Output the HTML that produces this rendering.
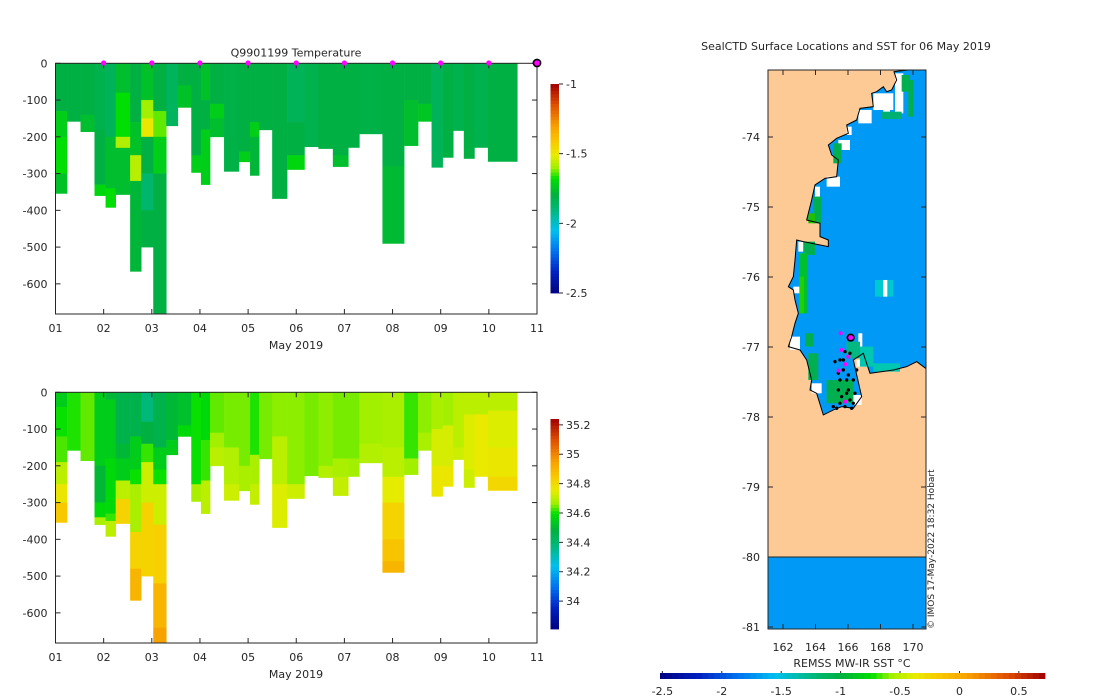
<!DOCTYPE html>
<html><head><meta charset="utf-8"><style>
body{margin:0;background:#fff;width:1100px;height:700px;overflow:hidden}
svg{display:block;font-family:"DejaVu Sans","Liberation Sans",sans-serif}
text{fill:#262626;font-size:11px}
</style></head><body>
<svg id="fig" width="1100" height="700"></svg>
<script>
// ---------- DATA ----------
const colStart=[0,0.24,0.52,0.81,1.04,1.25,1.55,1.78,2.03,2.30,2.54,2.82,3.02,3.21,3.50,3.81,4.04,4.23,4.50,4.81,5.17,5.46,5.76,6.08,6.31,6.79,7.24,7.53,7.81,8.04,8.26,8.48,8.70,8.98];
const colEnd=[0.24,0.52,0.81,1.04,1.25,1.55,1.78,2.03,2.30,2.54,2.82,3.02,3.21,3.50,3.81,4.04,4.23,4.50,4.81,5.17,5.46,5.76,6.08,6.31,6.79,7.24,7.53,7.81,8.04,8.26,8.48,8.70,8.98,9.59];
const colDepth=[354,158,186,360,392,357,566,500,682,170,120,297,330,200,294,268,305,181,368,289,227,232,281,229,192,490,224,158,283,256,183,259,229,267];
const tempLayers=[
[[0,-1.8],[130,-1.72],[200,-1.68],[300,-1.75]],[[0,-1.8]],[[0,-1.8],[140,-1.76]],
[[0,-1.82],[180,-1.8],[330,-1.7]],[[0,-1.84],[200,-1.76],[340,-1.68]],
[[0,-1.76],[80,-1.68],[200,-1.58],[230,-1.76]],[[0,-1.8],[160,-1.75],[250,-1.57],[320,-1.78]],
[[0,-1.75],[100,-1.6],[150,-1.5],[200,-1.8],[300,-1.88],[400,-1.8]],[[0,-1.8],[130,-1.63],[200,-1.72],[300,-1.8]],
[[0,-1.85]],[[0,-1.8],[60,-1.75]],[[0,-1.8],[250,-1.72]],[[0,-1.75],[100,-1.8],[180,-1.72]],
[[0,-1.8],[110,-1.72],[150,-1.76]],[[0,-1.81]],[[0,-1.8],[240,-1.72]],[[0,-1.8],[160,-1.72],[200,-1.78]],
[[0,-1.8]],[[0,-1.8]],[[0,-1.84],[160,-1.8],[250,-1.7]],[[0,-1.82]],[[0,-1.8]],[[0,-1.8],[250,-1.76]],
[[0,-1.8]],[[0,-1.81]],[[0,-1.8],[280,-1.77]],[[0,-1.8],[100,-1.76]],[[0,-1.8],[110,-1.74]],
[[0,-1.84]],[[0,-1.8]],[[0,-1.82]],[[0,-1.8]],[[0,-1.82]],[[0,-1.8]]];
const salLayers=[
[[0,34.55],[40,34.6],[120,34.63],[190,34.7],[250,34.77],[300,34.85]],[[0,34.61]],[[0,34.64]],
[[0,34.55],[200,34.5],[300,34.58],[340,34.68]],[[0,34.5],[20,34.55],[180,34.58],[330,34.62],[350,34.7]],
[[0,34.46],[140,34.5],[180,34.55],[240,34.7],[290,34.82]],
[[0,34.46],[120,34.55],[210,34.6],[250,34.68],[380,34.82],[480,34.9]],
[[0,34.38],[80,34.48],[140,34.62],[190,34.72],[300,34.82]],
[[0,34.46],[150,34.55],[210,34.6],[250,34.72],[360,34.83],[520,34.9],[640,34.95]],
[[0,34.5],[130,34.55]],[[0,34.52],[90,34.58]],[[0,34.6],[250,34.68]],[[0,34.58],[130,34.62],[240,34.7]],
[[0,34.64],[110,34.67],[150,34.7]],[[0,34.65],[150,34.69],[250,34.72]],[[0,34.65],[200,34.68]],
[[0,34.61],[170,34.68],[250,34.71]],[[0,34.65]],[[0,34.66],[120,34.7],[250,34.74]],[[0,34.66],[250,34.72]],
[[0,34.65]],[[0,34.66],[200,34.69]],[[0,34.65],[180,34.68],[230,34.71]],[[0,34.65],[180,34.67]],
[[0,34.67],[140,34.69]],[[0,34.68],[150,34.7],[230,34.75],[300,34.82],[400,34.86],[460,34.9]],
[[0,34.62],[180,34.67]],[[0,34.66],[110,34.68]],[[0,34.68],[100,34.73],[200,34.77]],
[[0,34.67],[90,34.73],[200,34.77]],[[0,34.7],[150,34.72]],[[0,34.7],[60,34.74],[210,34.72]],
[[0,34.7],[60,34.76]],[[0,34.7],[50,34.74],[150,34.77],[230,34.81]]];
const surfaceDays=[1,2,3,4,5,6,7,8,9];
const currentDay=[10];
const depthTicks=[0,-100,-200,-300,-400,-500,-600];
const dayLabels=["01","02","03","04","05","06","07","08","09","10","11"];
const tempTicks=[-1,-1.5,-2,-2.5];
const salTicks=[35.2,35,34.8,34.6,34.4,34.2,34];
const lonTicks=[162,164,166,168,170];
const latTicks=[-74,-75,-76,-77,-78,-79,-80,-81];
const sstTicks=[-2.5,-2,-1.5,-1,-0.5,0,0.5];

// ---------- helpers ----------
const NS="http://www.w3.org/2000/svg";
const fig=document.getElementById('fig');
function mk(tag,attrs,parent){const e=document.createElementNS(NS,tag);for(const k in attrs)e.setAttribute(k,attrs[k]);(parent||fig).appendChild(e);return e;}
const stops=[[0,[0,0,127]],[0.1,[0,32,192]],[0.2,[0,112,240]],[0.3,[0,192,240]],[0.4,[0,184,120]],[0.47,[0,176,64]],[0.55,[0,224,0]],[0.6,[160,240,0]],[0.66,[232,236,0]],[0.72,[248,204,0]],[0.8,[248,160,0]],[0.9,[224,80,0]],[1,[160,0,0]]];
function cmap(p){p=Math.max(0,Math.min(1,p));for(let i=1;i<stops.length;i++){if(p<=stops[i][0]){const a=stops[i-1],b=stops[i],t=(p-a[0])/(b[0]-a[0]);const c=a[1].map((v,j)=>Math.round(v+(b[1][j]-v)*t));return `rgb(${c})`;}}return 'rgb(160,0,0)';}

function section(name,top,bot,layers,vmin,vmax,cbTop,cbBot,cbTicks,title){
  const L=55.5,R=537,D1=682;
  const xs=d=>L+(R-L)*d/10, ys=m=>top+(bot-top)*m/D1;
  const g=mk('g',{});
  
  
  colStart.forEach((s,i)=>{
    const ls=layers[i];
    ls.forEach((l,j)=>{
      const d0=l[0], d1=j+1<ls.length?ls[j+1][0]:colDepth[i];
      const r=mk('rect',{x:xs(s),y:ys(d0),width:xs(colEnd[i])-xs(s)+0.3,height:ys(d1)-ys(d0)+0.3,fill:cmap((l[1]-vmin)/(vmax-vmin))},g);
      
      
    });
  });
  const ax=mk('rect',{x:L,y:top,width:R-L,height:bot-top,fill:'none',stroke:'#262626','stroke-width':1},g);
  
  
  depthTicks.forEach(t=>{const y=ys(-t);
    mk('line',{x1:L,x2:L+5,y1:y,y2:y,stroke:'#262626'},g);mk('line',{x1:R,x2:R-5,y1:y,y2:y,stroke:'#262626'},g);
    const tx=mk('text',{x:L-8,y:y+4,'text-anchor':'end'},g);tx.textContent=t;
    
    });
  dayLabels.forEach((lab,i)=>{const x=xs(i);
    mk('line',{x1:x,x2:x,y1:bot,y2:bot-5,stroke:'#262626'},g);mk('line',{x1:x,x2:x,y1:top,y2:top+5,stroke:'#262626'},g);
    const tx=mk('text',{x:x,y:bot+18,'text-anchor':'middle'},g);tx.textContent=lab;
    
    });
  const xl=mk('text',{x:296,y:bot+35,'text-anchor':'middle'},g);xl.textContent='May 2019';
  
  
  if(title){const tt=mk('text',{x:296,y:top-7,'text-anchor':'middle'},g);tt.textContent=title;
    
    }
  const cb=mk('g',{},g);
  
  
  const n=64;for(let k=0;k<n;k++){const y=cbBot-(cbBot-cbTop)*(k+1)/n;
    mk('rect',{x:550.5,y:y,width:8.5,height:(cbBot-cbTop)/n+0.4,fill:cmap((k+0.5)/n)},cb);}
  const cy=v=>cbBot-(cbBot-cbTop)*(v-vmin)/(vmax-vmin);
  cbTicks.forEach(t=>{const y=cy(t);mk('line',{x1:559,x2:563,y1:y,y2:y,stroke:'#262626'},cb);
    const tx=mk('text',{x:566,y:y+4},cb);tx.textContent=t;
    
    });
  return {xs,ys,g};
}
const T=section('temperature-section',63.3,314,tempLayers,-2.5,-1,84,293,tempTicks,'Q9901199  Temperature');
section('salinity-section',392.3,643,salLayers,33.81,35.24,419,629,salTicks,null);
surfaceDays.forEach(d=>{const c=mk('circle',{cx:T.xs(d),cy:63,r:2.6,fill:'#ff00ff'});
  
  });
currentDay.forEach(d=>{const c=mk('circle',{cx:T.xs(d),cy:63,r:3.6,fill:'#ff00ff',stroke:'#000','stroke-width':1.6});
  
  });

// ---------- MAP ----------
const mL=768,mR=926,mT=70,mB=629;
const lonX=l=>783+(l-162)*16.25, latY=a=>137+(-74-a)*70;
const map=mk('g',{});


mk('rect',{x:mL,y:mT,width:mR-mL,height:mB-mT,fill:'#fdca96'},map);
mk('rect',{x:mL,y:latY(-80),width:mR-mL,height:mB-latY(-80),fill:'#0099f6'},map);
const z=mk('g',{transform:'translate(740,60) scale(0.3333)'},map);
const coast=[[505,30],[462,35],[470,60],[455,90],[440,95],[430,80],[410,95],[395,100],[400,140],[360,145],[350,180],[320,195],[325,220],[290,235],[265,255],[275,285],[295,300],[290,350],[255,355],[225,375],[215,420],[200,480],[240,490],[240,530],[265,540],[265,560],[190,545],[170,540],[165,600],[160,650],[145,680],[160,690],[165,720],[175,760],[165,790],[155,830],[145,860],[180,870],[200,900],[215,960],[210,990],[230,1000],[250,1065],[280,1050],[305,1040],[340,1045],[365,1010],[340,900],[370,880],[390,940],[460,930],[500,920],[530,905],[557,925]];
const pts=coast.map(p=>p.join(',')).join(' ');
mk('polygon',{points:pts+' 557,30',fill:'#0099f6'},z);
const whites=[[465,40,25,120],[400,100,60,50],[430,140,20,20],[355,150,40,40],[320,200,15,25],[295,240,35,30],[260,350,40,30],[225,380,15,30],[175,545,15,30],[160,680,25,20],[150,830,30,40],[215,970,30,30],[340,1005,25,30],[355,820,12,40],[350,900,25,20]];
whites.forEach(r=>mk('rect',{x:r[0],y:r[1],width:r[2],height:r[3],fill:'#fff'},z));
const greens=[[485,45,25,50,'#00b050'],[505,60,15,110,'#00b050'],[425,155,60,22,'#00b070'],[280,250,25,60,'#00b050'],[220,410,25,80,'#00b050'],[205,460,20,30,'#20c000'],[190,545,35,40,'#00b050'],[180,580,22,180,'#00c030'],[178,650,14,110,'#20d000'],[195,820,25,40,'#00b050'],[205,880,30,80,'#00b050'],[260,960,80,70,'#00b050'],[320,845,40,50,'#00b880'],[360,860,40,60,'#00c8b0'],[400,910,80,25,'#00c8b0'],[405,660,55,50,'#00c8d0']];
greens.forEach(r=>mk('rect',{x:r[0],y:r[1],width:r[2],height:r[3],fill:r[4]},z));
mk('rect',{x:430,y:660,width:12,height:50,fill:'#fff'},z);
mk('polyline',{points:pts,fill:'none',stroke:'#000','stroke-width':3},z);
const track=[[300,900],[310,930],[320,960],[295,990],[305,1010],[330,1020],[315,1040],[335,1045],[290,1045],[350,930],[330,880],[340,960],[300,960],[325,990],[345,1000],[310,900],[315,875],[320,1000],[285,905],[295,940],[340,1030],[300,1030],[280,1040],[325,945]];
track.forEach(p=>{const c=mk('circle',{cx:p[0],cy:p[1],r:5,fill:'#000'},z);
  
  });
[[302,820],[305,870],[325,890],[316,913],[296,932],[316,1025]].forEach(p=>mk('circle',{cx:p[0],cy:p[1],r:6,fill:'#ff00ff'},z));
mk('circle',{cx:332,cy:833,r:10,fill:'#ff00ff',stroke:'#000','stroke-width':5},z);
mk('rect',{x:mL,y:mT,width:mR-mL,height:mB-mT,fill:'none',stroke:'#262626'},map);
mk('line',{x1:mL,x2:mR,y1:latY(-80),y2:latY(-80),stroke:'#262626'},map);
lonTicks.forEach(l=>{const x=lonX(l);
  mk('line',{x1:x,x2:x,y1:mB,y2:mB-5,stroke:'#262626'},map);mk('line',{x1:x,x2:x,y1:mT,y2:mT+5,stroke:'#262626'},map);
  const t=mk('text',{x:x,y:mB+22,'text-anchor':'middle'},map);t.textContent=l;
  
  });
latTicks.forEach(a=>{const y=latY(a);
  mk('line',{x1:mL,x2:mL+5,y1:y,y2:y,stroke:'#262626'},map);mk('line',{x1:mR,x2:mR-5,y1:y,y2:y,stroke:'#262626'},map);
  const t=mk('text',{x:mL-8,y:y+4,'text-anchor':'end'},map);t.textContent=a;
  
  });
const mt=mk('text',{x:846,y:50,'text-anchor':'middle'});mt.textContent='SealCTD Surface Locations and SST for 06 May 2019';


const cr=mk('text',{x:0,y:0,transform:'translate(934,629) rotate(-90)'});cr.textContent='© IMOS 17-May-2022 18:32 Hobart';
cr.style.fontSize='9px';


const sc=mk('g',{});


const sMin=-2.52,sMax=0.72,sx=v=>660+(1045-660)*(v-sMin)/(sMax-sMin);
for(let k=0;k<64;k++){mk('rect',{x:660+385*k/64,y:673,width:385/64+0.4,height:6,fill:cmap((k+0.5)/64)},sc);}
sstTicks.forEach(v=>{const x=sx(v);mk('line',{x1:x,x2:x,y1:671,y2:673,stroke:'#262626'},sc);
  const t=mk('text',{x:x,y:695,'text-anchor':'middle'},sc);t.textContent=v;
  
  });
const st=mk('text',{x:852,y:667,'text-anchor':'middle'},sc);st.textContent='REMSS MW-IR SST °C';


</script>
</body></html>
